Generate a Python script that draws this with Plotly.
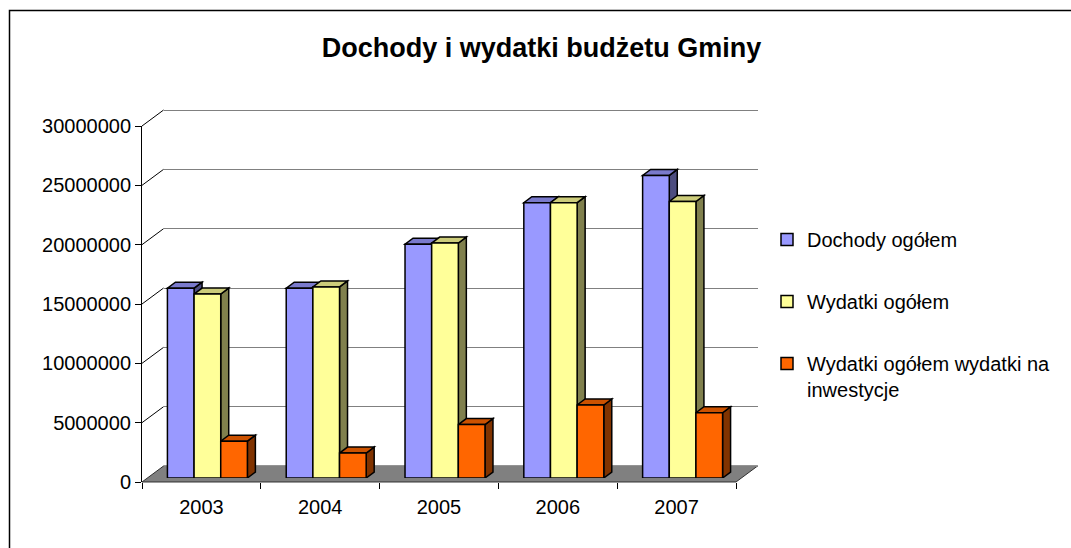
import plotly.graph_objects as go

# ---------------- data ----------------
YEARS = ["2003", "2004", "2005", "2006", "2007"]
DOCHODY = [16.0e6, 16.0e6, 19.7e6, 23.2e6, 25.5e6]
WYDATKI = [15.5e6, 16.1e6, 19.8e6, 23.2e6, 23.3e6]
INWESTYCJE = [3.1e6, 2.1e6, 4.5e6, 6.15e6, 5.5e6]
SERIES_NAMES = ["Dochody ogółem", "Wydatki ogółem", "Wydatki ogółem wydatki na<br>inwestycje"]
Y_TICKS = [0, 5000000, 10000000, 15000000, 20000000, 25000000, 30000000]
TITLE = "Dochody i wydatki budżetu Gminy"

# ---------------- styling / geometry ----------------
W, H = 1071, 548
FONT = "Arial, Liberation Sans, sans-serif"
FRONT_COLORS = ["#9999FF", "#FFFF99", "#FF6600"]
TOP_COLORS = ["#7A7ACC", "#CCCC7A", "#CC5200"]
SIDE_COLORS = ["#4D4D80", "#80804D", "#803300"]
Y_MAX = 30000000
BARGAP = 0.327
DX, DY = 8, 6  # bar depth in pixels


def fx(p):
    return p / W


def fy(p):
    return 1 - p / H


# front plane (axes with labels)
FRONT_X = (142, 736)
FRONT_Y = (126, 482)
# bar plane
BAR_X = (148, 742)
BAR_Y = (122, 478)
# back wall
BACK_X = (163.6, 757.6)
BACK_Y = (110, 466)

PLOT_H = FRONT_Y[1] - FRONT_Y[0]
CAT_PX = (FRONT_X[1] - FRONT_X[0]) / len(YEARS)
PAD = 0.02 * Y_MAX  # back-wall axis padding so edge gridlines are drawn
PAD_PX = PAD / Y_MAX * PLOT_H

fig = go.Figure()

# back wall subplot (x, y) : gridlines only
fig.add_trace(go.Scatter(x=YEARS, y=[None] * len(YEARS), xaxis="x", yaxis="y",
                         showlegend=False, hoverinfo="skip"))

# bars (x2, y2)
series = [DOCHODY, WYDATKI, INWESTYCJE]
for j, (vals, name) in enumerate(zip(series, SERIES_NAMES)):
    fig.add_trace(go.Bar(
        x=YEARS, y=vals, name=name, xaxis="x2", yaxis="y2",
        marker=dict(color=FRONT_COLORS[j], line=dict(color="black", width=1.5)),
        legendgroup=f"g{j}",
    ))

# front axes (x3, y3)
fig.add_trace(go.Scatter(x=YEARS, y=[None] * len(YEARS), xaxis="x3", yaxis="y3",
                         showlegend=False, hoverinfo="skip"))

shapes = []

# floor
fl = [(FRONT_X[0], FRONT_Y[1]), (FRONT_X[1], FRONT_Y[1]), (BACK_X[1], BACK_Y[1]), (BACK_X[0], BACK_Y[1])]
path = "M " + " L ".join(f"{fx(a):.5f},{fy(b):.5f}" for a, b in fl) + " Z"
shapes.append(dict(type="path", path=path, xref="paper", yref="paper", layer="below",
                   fillcolor="#808080", line=dict(color="#303030", width=1)))

# side wall diagonal gridlines
for v in Y_TICKS:
    if v == 0:
        continue
    yf = FRONT_Y[1] - v / Y_MAX * PLOT_H
    yb = BACK_Y[1] - v / Y_MAX * PLOT_H
    shapes.append(dict(type="line", xref="paper", yref="paper", layer="below",
                       x0=fx(FRONT_X[0]), y0=fy(yf), x1=fx(BACK_X[0]), y1=fy(yb),
                       line=dict(color="#000000", width=1)))

# 3D faces of bars
n = len(series)
group_w = 1 - BARGAP
bw = group_w / n
bw_px = bw * CAT_PX
dy_data = DY * Y_MAX / PLOT_H
for j, vals in enumerate(series):
    for i, v in enumerate(vals):
        left = i - group_w / 2 + bw * j
        right = left + bw
        side = (f"M 0,0 L {DX},{dy_data:.1f} L {DX},{v + dy_data:.1f} L 0,{v:.1f} Z")
        shapes.append(dict(type="path", xref="x2", yref="y2", layer="below",
                           xsizemode="pixel", xanchor=right, path=side,
                           fillcolor=SIDE_COLORS[j], line=dict(color="black", width=1.5)))
        top = (f"M 0,{v:.1f} L {bw_px:.2f},{v:.1f} L {bw_px + DX:.2f},{v + dy_data:.1f} "
               f"L {DX},{v + dy_data:.1f} Z")
        shapes.append(dict(type="path", xref="x2", yref="y2", layer="below",
                           xsizemode="pixel", xanchor=left, path=top,
                           fillcolor=TOP_COLORS[j], line=dict(color="black", width=1.5)))

# outer chart border (top and left visible)
shapes.append(dict(type="rect", xref="paper", yref="paper", x0=fx(9.5), y0=-0.05, x1=1.05, y1=fy(10.5),
                   line=dict(color="#000000", width=1.5), fillcolor="rgba(0,0,0,0)", layer="above"))

cat_axis = dict(type="category", categoryorder="array", categoryarray=YEARS,
                range=[-0.5, len(YEARS) - 0.5], fixedrange=True)

fig.update_layout(
    width=W, height=H, autosize=False,
    margin=dict(l=0, r=0, t=0, b=0, autoexpand=False),
    paper_bgcolor="white", plot_bgcolor="rgba(0,0,0,0)",
    font=dict(family=FONT, size=20, color="black"),
    barmode="group", bargap=BARGAP, bargroupgap=0,
    title=dict(text=f"<b>{TITLE}</b>", x=541.5 / W, xanchor="center", y=fy(48), yanchor="middle",
               xref="paper", yref="paper", font=dict(family=FONT, size=27, color="black")),
    xaxis=dict(**cat_axis, domain=[fx(BACK_X[0]), fx(BACK_X[1])], anchor="y",
               showticklabels=False, showgrid=False, showline=False, ticks="", zeroline=False),
    yaxis=dict(range=[-PAD, Y_MAX + PAD], domain=[fy(BACK_Y[1] + PAD_PX), fy(BACK_Y[0] - PAD_PX)],
               anchor="x", tickvals=Y_TICKS, showticklabels=False, showgrid=True,
               gridcolor="#808080", gridwidth=1.3, zeroline=False, showline=False, ticks="",
               fixedrange=True),
    xaxis2=dict(**cat_axis, domain=[fx(BAR_X[0]), fx(BAR_X[1])], anchor="y2",
                showticklabels=False, showgrid=False, showline=False, ticks="", zeroline=False),
    yaxis2=dict(range=[0, Y_MAX], domain=[fy(BAR_Y[1]), fy(BAR_Y[0])], anchor="x2",
                showticklabels=False, showgrid=False, zeroline=False, showline=False, ticks="",
                fixedrange=True),
    xaxis3=dict(**cat_axis, domain=[fx(FRONT_X[0]), fx(FRONT_X[1])], anchor="y3",
                showticklabels=True, showgrid=False, showline=False, zeroline=False,
                ticks="outside", tickson="boundaries", ticklen=6, tickcolor="black", tickwidth=1,
                ticklabelstandoff=11),
    yaxis3=dict(range=[0, Y_MAX], domain=[fy(FRONT_Y[1]), fy(FRONT_Y[0])], anchor="x3",
                tickvals=Y_TICKS, ticktext=[str(v) for v in Y_TICKS],
                showticklabels=True, showgrid=False, zeroline=False, showline=True,
                linecolor="black", linewidth=1, ticks="outside", ticklen=6, tickcolor="black",
                fixedrange=True),
    legend=dict(x=fx(767), y=fy(220), xanchor="left", yanchor="top", xref="paper", yref="paper",
                tracegroupgap=33, valign="top", bgcolor="rgba(0,0,0,0)",
                font=dict(family=FONT, size=20, color="black")),
    shapes=shapes,
    showlegend=True,
)

fig.write_html(
    "out.html",
    config={"displayModeBar": False},
    post_script="document.body.style.margin='0';document.body.style.overflow='hidden';",
)
